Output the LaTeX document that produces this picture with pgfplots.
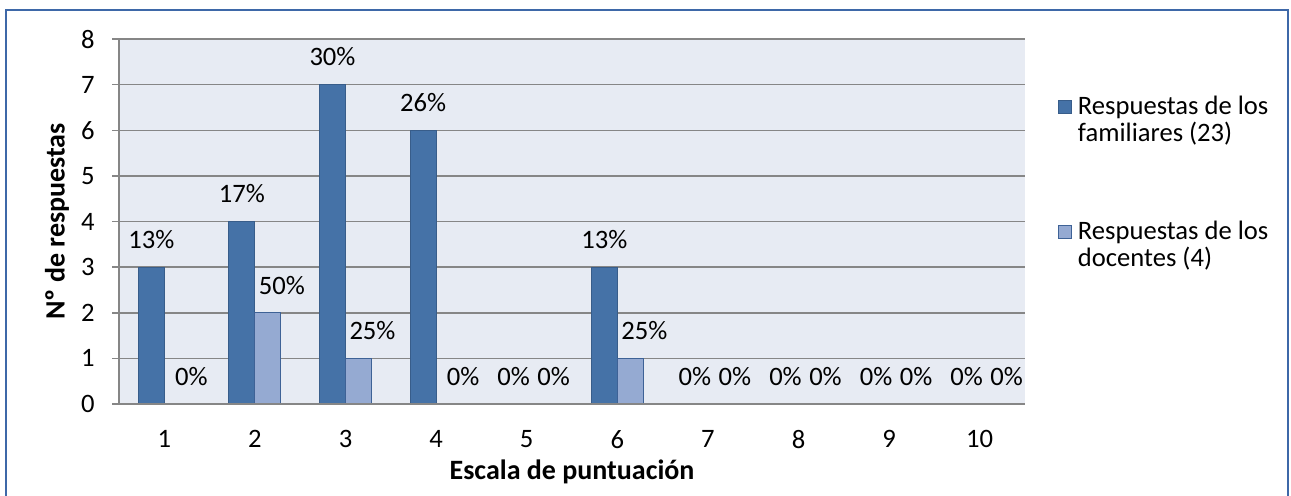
\documentclass[border=0pt]{standalone}
\usepackage{pgfplots}
\pgfplotsset{compat=1.18}
\usepackage{pgfplotstable}
\usepackage{fontspec}
\setmainfont{Carlito}
\definecolor{darkbar}{RGB}{69,114,167}
\definecolor{darkedge}{RGB}{56,93,138}
\definecolor{lightbar}{RGB}{149,170,210}
\definecolor{lightedge}{RGB}{62,98,150}
\definecolor{plotbg}{RGB}{231,235,243}
\definecolor{gridgray}{RGB}{134,134,134}
\definecolor{framecol}{RGB}{62,104,168}

\pgfplotstableread{
x y p
1 3 13
2 4 17
3 7 30
4 6 26
5 0 0
6 3 13
7 0 0
8 0 0
9 0 0
10 0 0
}\familiares
\pgfplotstableread{
x y p
1 0 0
2 2 50
3 1 25
4 0 0
5 0 0
6 1 25
7 0 0
8 0 0
9 0 0
10 0 0
}\docentes

\begin{document}
\begin{tikzpicture}
\path[use as bounding box] (0pt,0pt) rectangle (645.5pt,247.5pt);
\draw[framecol, line width=1pt] (3pt,-5pt) rectangle (644pt,242.5pt);
\begin{axis}[
  at={(59.5pt,45.5pt)}, anchor=south west,
  scale only axis, width=453pt, height=182.5pt,
  font=\fontsize{13.3}{13.5}\selectfont,
  /pgf/number format/assume math mode=true,
  ybar=0pt, bar width=13pt,
  xmin=0.5, xmax=10.5, ymin=0, ymax=8,
  xtick={1,...,10}, ytick={0,...,8},
  axis background/.style={fill=plotbg},
  axis x line*=bottom, axis y line*=left,
  axis line style={draw=gridgray, line width=0.9pt, -},
  ymajorgrids, major grid style={draw=gridgray, line width=0.75pt},
  major x tick style={draw=none},
  major y tick style={draw=gridgray, line width=0.75pt},
  tick align=outside, major tick length=3.5pt,
  xticklabel style={yshift=-6.3pt},
  yticklabel style={xshift=-5.2pt},
  every axis y label/.style={at={(axis description cs:-0.0684,0.5)}, rotate=90, anchor=center, font=\fontsize{14}{14}\selectfont\bfseries},
  every axis x label/.style={at={(axis description cs:0.5,-0.186)}, anchor=center, font=\fontsize{14}{14}\selectfont\bfseries},
  ylabel={Nº de respuestas},
  xlabel={Escala de puntuación},
  point meta=explicit,
  nodes near coords={\pgfmathprintnumber{\pgfplotspointmeta}\%},
  every node near coord/.append style={font=\fontsize{13.3}{13.5}\selectfont, inner sep=0pt, yshift=9pt, anchor=south, black},
  legend image code/.code={\draw[#1, line width=0.5pt] (0pt,3.5pt) rectangle (6.3pt,9.8pt);},
  legend style={at={(rel axis cs:1.0364,0.855)}, anchor=north west, draw=none, fill=none,
    inner sep=0pt, row sep=34pt, column sep=1pt,
    cells={anchor=west, align=left}, font=\fontsize{13.3}{13.5}\selectfont},
  legend cell align=left,
]
\addplot[fill=darkbar, draw=darkedge, line width=0.5pt] table[x=x, y=y, meta=p] {\familiares};
\addplot[fill=lightbar, draw=lightedge, line width=0.5pt,
  every node near coord/.append style={xshift=7pt}] table[x=x, y=y, meta=p] {\docentes};
\legend{Respuestas de los\\familiares (23), Respuestas de los\\docentes (4)}
\draw[gridgray, line width=0.9pt] (rel axis cs:0,0) -- (rel axis cs:1,0);
\end{axis}
\end{tikzpicture}
\end{document}
